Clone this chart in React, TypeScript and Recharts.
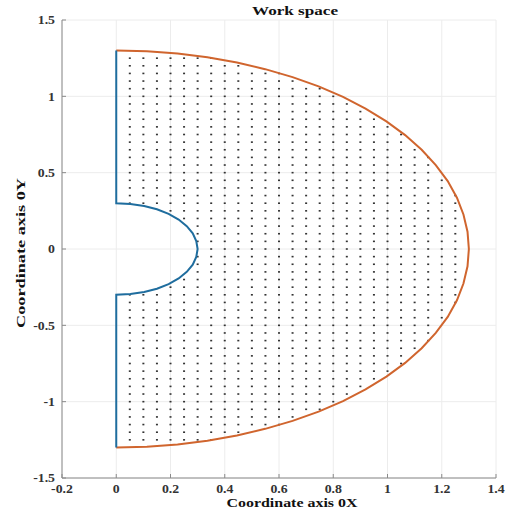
import React from 'react';
import { ScatterChart, Scatter, XAxis, YAxis, CartesianGrid, Customized } from 'recharts';

const xTicks = [-0.2, 0, 0.2, 0.4, 0.6, 0.8, 1, 1.2, 1.4];
const yTicks = [-1.5, -1, -0.5, 0, 0.5, 1, 1.5];

const outerArcX = [0, 0.113, 0.226, 0.336, 0.445, 0.549, 0.65, 0.746, 0.836, 0.919, 0.996, 1.065, 1.126, 1.178, 1.222, 1.256, 1.28, 1.295, 1.3, 1.295, 1.28, 1.256, 1.222, 1.178, 1.126, 1.065, 0.996, 0.919, 0.836, 0.746, 0.65, 0.549, 0.445, 0.336, 0.226, 0.113, 0];
const outerArcY = [1.3, 1.295, 1.28, 1.256, 1.222, 1.178, 1.126, 1.065, 0.996, 0.919, 0.836, 0.746, 0.65, 0.549, 0.445, 0.336, 0.226, 0.113, 0, -0.113, -0.226, -0.336, -0.445, -0.549, -0.65, -0.746, -0.836, -0.919, -0.996, -1.065, -1.126, -1.178, -1.222, -1.256, -1.28, -1.295, -1.3];

const innerPathX = [0, 0, 0.052, 0.103, 0.15, 0.193, 0.23, 0.26, 0.282, 0.295, 0.3, 0.295, 0.282, 0.26, 0.23, 0.193, 0.15, 0.103, 0.052, 0, 0];
const innerPathY = [1.3, 0.3, 0.295, 0.282, 0.26, 0.23, 0.193, 0.15, 0.103, 0.052, 0, -0.052, -0.103, -0.15, -0.193, -0.23, -0.26, -0.282, -0.295, -0.3, -1.3];

const gridXs = [0.05, 0.1, 0.15, 0.2, 0.25, 0.3, 0.35, 0.4, 0.45, 0.5, 0.55, 0.6, 0.65, 0.7, 0.75, 0.8, 0.85, 0.9, 0.95, 1.0, 1.05, 1.1, 1.15, 1.2, 1.25];
const gridYs = [-1.25, -1.2, -1.15, -1.1, -1.05, -1.0, -0.95, -0.9, -0.85, -0.8, -0.75, -0.7, -0.65, -0.6, -0.55, -0.5, -0.45, -0.4, -0.35, -0.3, -0.25, -0.2, -0.15, -0.1, -0.05, 0, 0.05, 0.1, 0.15, 0.2, 0.25, 0.3, 0.35, 0.4, 0.45, 0.5, 0.55, 0.6, 0.65, 0.7, 0.75, 0.8, 0.85, 0.9, 0.95, 1.0, 1.05, 1.1, 1.15, 1.2, 1.25];
const innerRadius = 0.3;
const outerRadius = 1.3;

const outerData = outerArcX.map((x, i) => ({ x, y: outerArcY[i] }));
const innerData = innerPathX.map((x, i) => ({ x, y: innerPathY[i] }));
const dotData: { x: number; y: number }[] = [];
gridXs.forEach((x) => {
  gridYs.forEach((y) => {
    const r = Math.sqrt(x * x + y * y);
    if (r > innerRadius + 1e-9 && r < outerRadius - 1e-9) dotData.push({ x, y });
  });
});

const FONT = '"Liberation Serif", "Times New Roman", serif';
const BLUE = '#1f6d9e';
const ORANGE = '#d0652e';
const AXIS = '#8a8a8a';
const XM = 6;
const YM = 7;
const TICK_FS = 12;

const charW = (c: string) => (c === '.' ? 0.25 : c === '-' ? 0.333 : 0.5);
const labelLen = (s: string) => s.split('').reduce((a, c) => a + charW(c), 0) * TICK_FS * 1.15;

const XTick = (props: any) => {
  const { x, y, payload } = props;
  const ay = y - XM;
  const s = String(payload.value);
  return (
    <g>
      <line x1={x} x2={x} y1={ay} y2={ay - 4} stroke={AXIS} strokeWidth={1} />
      <text x={x} y={y} dy="0.71em" textAnchor="middle" fontFamily={FONT} fontWeight="bold" fontSize={TICK_FS} fill="#333" textLength={labelLen(s)} lengthAdjust="spacingAndGlyphs">
        {s}
      </text>
    </g>
  );
};

const YTick = (props: any) => {
  const { x, y, payload } = props;
  const ax = x + YM;
  const s = String(payload.value);
  return (
    <g>
      <line x1={ax} x2={ax + 4} y1={y} y2={y} stroke={AXIS} strokeWidth={1} />
      <text x={x} y={y} dy="0.355em" textAnchor="end" fontFamily={FONT} fontWeight="bold" fontSize={TICK_FS} fill="#333" textLength={labelLen(s)} lengthAdjust="spacingAndGlyphs">
        {s}
      </text>
    </g>
  );
};

const Labels = () => (
  <g>
    <text x={295} y={15} textAnchor="middle" fontFamily={FONT} fontWeight="bold" fontSize={13} fill="#111" textLength={86} lengthAdjust="spacingAndGlyphs">
      Work space
    </text>
    <text x={292} y={502} dy="0.355em" textAnchor="middle" fontFamily={FONT} fontWeight="bold" fontSize={13} fill="#111" textLength={131} lengthAdjust="spacingAndGlyphs">
      Coordinate axis 0X
    </text>
    <text x={20} y={253} dy="0.355em" textAnchor="middle" fontFamily={FONT} fontWeight="bold" fontSize={13} fill="#111" transform="rotate(-90 20 253)" textLength={150} lengthAdjust="spacingAndGlyphs">
      Coordinate axis 0Y
    </text>
  </g>
);

const Dot = (props: any) => {
  const { cx, cy } = props;
  if (cx == null || cy == null) return <g />;
  return <rect x={cx - 1} y={cy - 0.8} width={2} height={1.6} fill="#333" />;
};

const NoShape = () => <g />;

export default function App() {
  return (
    <div style={{ position: 'absolute', left: 0, top: 0, background: '#fff' }}>
      <ScatterChart width={514} height={509} margin={{ top: 20, right: 18, bottom: 0, left: 0 }}>
        <CartesianGrid stroke="#ececec" strokeWidth={1} />
        <XAxis
          type="number"
          dataKey="x"
          domain={[-0.2, 1.4]}
          ticks={xTicks}
          allowDataOverflow
          height={31}
          tickSize={0}
          tickMargin={XM}
          tick={<XTick />}
          axisLine={{ stroke: AXIS }}
          tickLine={false}
        />
        <YAxis
          type="number"
          dataKey="y"
          domain={[-1.5, 1.5]}
          ticks={yTicks}
          allowDataOverflow
          width={62}
          tickSize={0}
          tickMargin={YM}
          tick={<YTick />}
          axisLine={{ stroke: AXIS }}
          tickLine={false}
        />
        <Scatter data={dotData} shape={<Dot />} isAnimationActive={false} legendType="none" />
        <Scatter data={outerData} line={{ stroke: ORANGE, strokeWidth: 2 }} shape={<NoShape />} isAnimationActive={false} legendType="none" />
        <Scatter data={innerData} line={{ stroke: BLUE, strokeWidth: 2 }} shape={<NoShape />} isAnimationActive={false} legendType="none" />
        <Customized component={Labels} />
      </ScatterChart>
    </div>
  );
}
